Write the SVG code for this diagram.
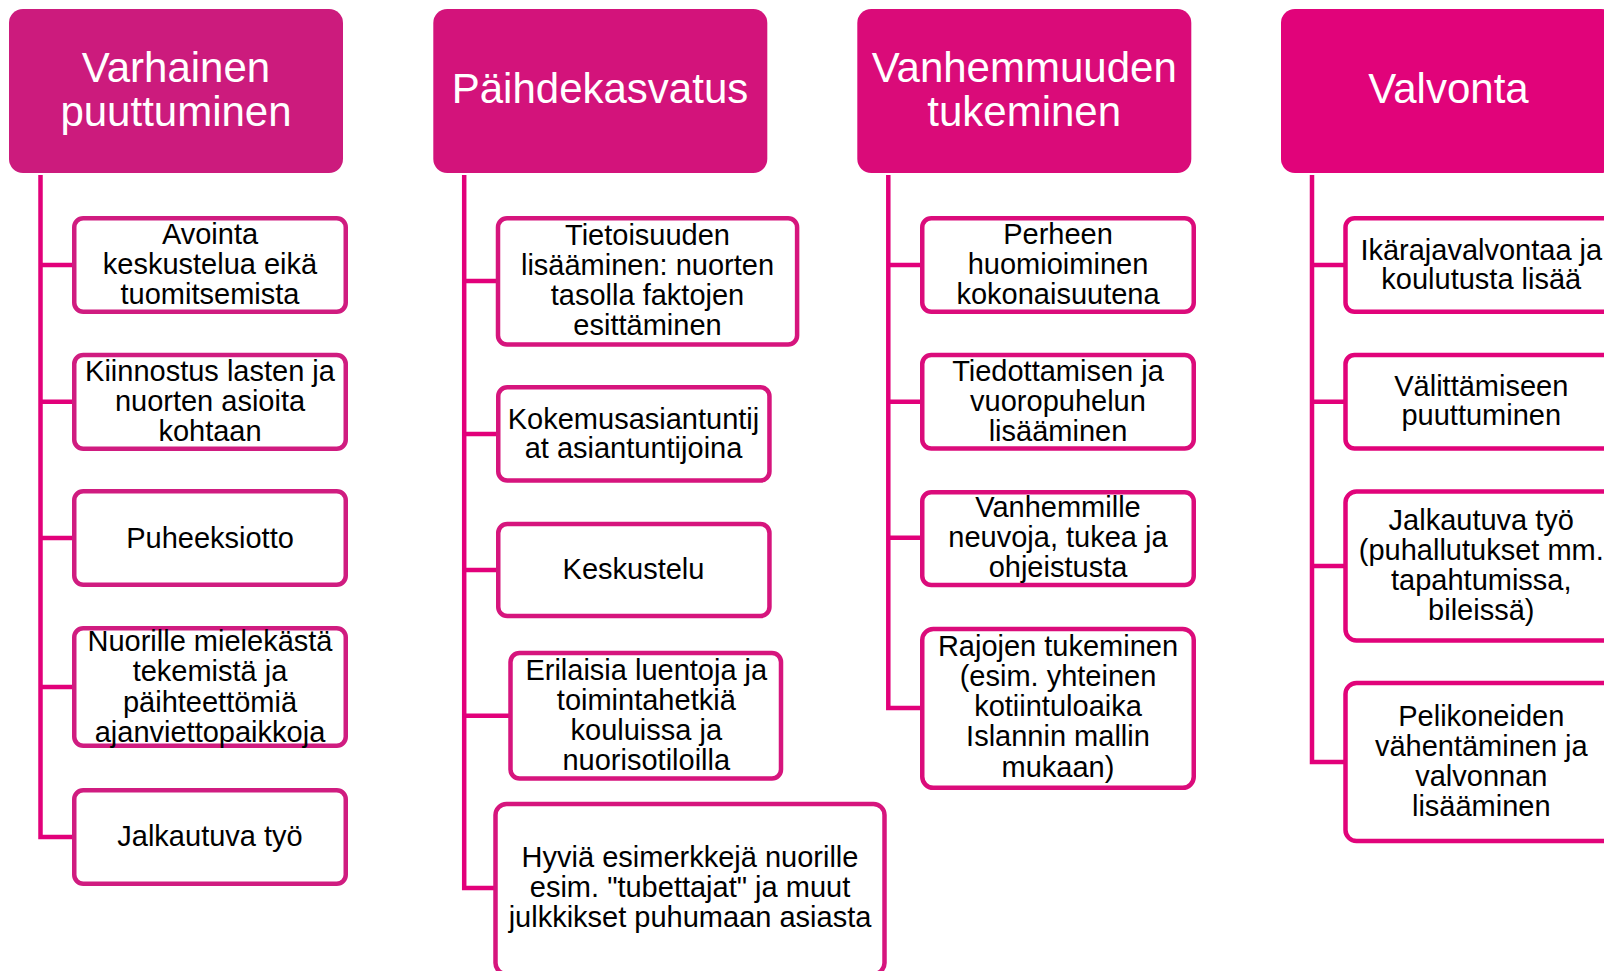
<svg xmlns="http://www.w3.org/2000/svg" width="1604" height="971" viewBox="0 0 1604 971">
<style>
.hdr{stroke:none}
.ht{font-family:"Liberation Sans",Arial,sans-serif;font-size:42px;fill:#fff;text-anchor:middle}
.bx{fill:#fff;stroke-width:4.5}
.c1{stroke:#D01C80}.c2{stroke:#D6157D}.c3{stroke:#DB0C7B}.c4{stroke:#E1037A}
.t{font-family:"Liberation Sans",Arial,sans-serif;font-size:29px;fill:#000;text-anchor:middle}
.cn{fill:none;stroke:#E2007A;stroke-width:4.5;stroke-linejoin:miter}
</style>
<rect width="1604" height="971" fill="#fff"/>
<g id="connectors">
<path class="cn" d="M40.5 175V265H74M40.5 175V401.7H74M40.5 175V538H74M40.5 175V687H74M40.5 175V837H74"/>
<path class="cn" d="M464.2 175V281H498M464.2 175V434H498M464.2 175V570H498M464.2 175V715.7H510M464.2 175V888H495"/>
<path class="cn" d="M888.3 175V265H922M888.3 175V401.7H922M888.3 175V537.7H922M888.3 175V708H922"/>
<path class="cn" d="M1312 175V265H1345M1312 175V401.7H1345M1312 175V566H1345M1312 175V762H1345"/>
</g>
<g id="h1"><rect class="hdr" x="9" y="9" width="334" height="164" rx="14" fill="#CC1B7D"/><text class="ht" x="176" y="82">Varhainen<tspan x="176" dy="44">puuttuminen</tspan></text></g>
<g id="h2"><rect class="hdr" x="433.3" y="9" width="334" height="164" rx="14" fill="#D3137B"/><text class="ht" x="600" y="103.3">Päihdekasvatus</text></g>
<g id="h3"><rect class="hdr" x="857.3" y="9" width="334" height="164" rx="14" fill="#DA0B79"/><text class="ht" x="1024.2" y="82">Vanhemmuuden<tspan x="1024.2" dy="44">tukeminen</tspan></text></g>
<g id="h4"><rect class="hdr" x="1281" y="9" width="334" height="164" rx="14" fill="#E1037A"/><text class="ht" x="1448.5" y="103.3">Valvonta</text></g>

<g id="n1a"><rect class="bx c1" x="74.25" y="218.25" width="271.5" height="93.5" rx="9"/><text class="t" x="210" y="244">Avointa<tspan x="210" dy="30">keskustelua eikä</tspan><tspan x="210" dy="30">tuomitsemista</tspan></text></g>
<g id="n1b"><rect class="bx c1" x="74.25" y="355" width="271.5" height="93.8" rx="9"/><text class="t" x="210" y="380.7">Kiinnostus lasten ja<tspan x="210" dy="30">nuorten asioita</tspan><tspan x="210" dy="30">kohtaan</tspan></text></g>
<g id="n1c"><rect class="bx c1" x="74.25" y="491.25" width="271.5" height="93.5" rx="9"/><text class="t" x="210" y="547.5">Puheeksiotto</text></g>
<g id="n1d"><rect class="bx c1" x="74.25" y="628.25" width="271.5" height="117.5" rx="9"/><text class="t" x="210" y="650.5">Nuorille mielekästä<tspan x="210" dy="30.5">tekemistä ja</tspan><tspan x="210" dy="30.5">päihteettömiä</tspan><tspan x="210" dy="30.5">ajanviettopaikkoja</tspan></text></g>
<g id="n1e"><rect class="bx c1" x="74.25" y="790.25" width="271.5" height="93.5" rx="9"/><text class="t" x="210" y="846">Jalkautuva työ</text></g>

<g id="n2a"><rect class="bx c2" x="498" y="218.25" width="299.1" height="126.2" rx="9"/><text class="t" x="647.5" y="244.5">Tietoisuuden<tspan x="647.5" dy="30">lisääminen: nuorten</tspan><tspan x="647.5" dy="30">tasolla faktojen</tspan><tspan x="647.5" dy="30">esittäminen</tspan></text></g>
<g id="n2b"><rect class="bx c2" x="498.25" y="387.25" width="271.2" height="93.2" rx="9"/><text class="t" x="633.5" y="428.5">Kokemusasiantuntij<tspan x="633.5" dy="29">at asiantuntijoina</tspan></text></g>
<g id="n2c"><rect class="bx c2" x="498.25" y="524" width="271.2" height="92" rx="9"/><text class="t" x="633.5" y="579.3">Keskustelu</text></g>
<g id="n2d"><rect class="bx c2" x="510.5" y="653" width="270.5" height="125.5" rx="9"/><text class="t" x="646.3" y="680">Erilaisia luentoja ja<tspan x="646.3" dy="30">toimintahetkiä</tspan><tspan x="646.3" dy="30">kouluissa ja</tspan><tspan x="646.3" dy="30">nuorisotiloilla</tspan></text></g>
<g id="n2e"><rect class="bx c2" x="495.5" y="804" width="389" height="170" rx="11"/><text class="t" x="690" y="866.7">Hyviä esimerkkejä nuorille<tspan x="690" dy="30">esim. "tubettajat" ja muut</tspan><tspan x="690" dy="30">julkkikset puhumaan asiasta</tspan></text></g>

<g id="n3a"><rect class="bx c3" x="922.25" y="218.25" width="271.5" height="93.5" rx="9"/><text class="t" x="1058" y="244">Perheen<tspan x="1058" dy="30">huomioiminen</tspan><tspan x="1058" dy="30">kokonaisuutena</tspan></text></g>
<g id="n3b"><rect class="bx c3" x="922.25" y="355" width="271.5" height="93.5" rx="9"/><text class="t" x="1058" y="380.7">Tiedottamisen ja<tspan x="1058" dy="30">vuoropuhelun</tspan><tspan x="1058" dy="30">lisääminen</tspan></text></g>
<g id="n3c"><rect class="bx c3" x="922.25" y="492.25" width="271.5" height="92.8" rx="9"/><text class="t" x="1058" y="516.7">Vanhemmille<tspan x="1058" dy="30">neuvoja, tukea ja</tspan><tspan x="1058" dy="30">ohjeistusta</tspan></text></g>
<g id="n3d"><rect class="bx c3" x="922.25" y="629" width="271.5" height="158.8" rx="11"/><text class="t" x="1058" y="655.5">Rajojen tukeminen<tspan x="1058" dy="30.3">(esim. yhteinen</tspan><tspan x="1058" dy="30.3">kotiintuloaika</tspan><tspan x="1058" dy="30.3">Islannin mallin</tspan><tspan x="1058" dy="30.3">mukaan)</tspan></text></g>

<g id="n4a"><rect class="bx c4" x="1345.5" y="218.25" width="271.5" height="93.5" rx="9"/><text class="t" x="1481.3" y="259.5">Ikärajavalvontaa ja<tspan x="1481.3" dy="29">koulutusta lisää</tspan></text></g>
<g id="n4b"><rect class="bx c4" x="1345.5" y="355" width="271.5" height="93.5" rx="9"/><text class="t" x="1481.3" y="395.7">Välittämiseen<tspan x="1481.3" dy="29">puuttuminen</tspan></text></g>
<g id="n4c"><rect class="bx c4" x="1345.5" y="491.5" width="271.5" height="149" rx="11"/><text class="t" x="1481.3" y="530">Jalkautuva työ<tspan x="1481.3" dy="30">(puhallutukset mm.</tspan><tspan x="1481.3" dy="30">tapahtumissa,</tspan><tspan x="1481.3" dy="30">bileissä)</tspan></text></g>
<g id="n4d"><rect class="bx c4" x="1345.5" y="683" width="271.5" height="158" rx="11"/><text class="t" x="1481.3" y="725.7">Pelikoneiden<tspan x="1481.3" dy="30">vähentäminen ja</tspan><tspan x="1481.3" dy="30">valvonnan</tspan><tspan x="1481.3" dy="30">lisääminen</tspan></text></g>
</svg>
